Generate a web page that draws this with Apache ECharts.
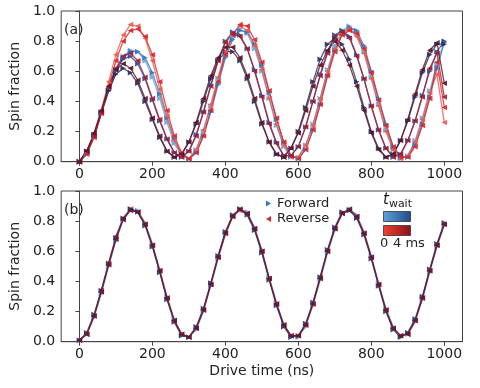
<!DOCTYPE html>
<html><head><meta charset="utf-8">
<script src="https://cdn.jsdelivr.net/npm/echarts@6/dist/echarts.min.js"></script>
<style>html,body{margin:0;padding:0;background:#fff}#c{width:480px;height:388px}</style>
</head><body><div id="c"></div>
<script>
const driveTime = [0,20,40,60,80,100,120,140,160,180,200,220,240,260,280,300,320,340,360,380,400,420,440,460,480,500,520,540,560,580,600,620,640,660,680,700,720,740,760,780,800,820,840,860,880,900,920,940,960,980,1000];
const xTicks = [0,200,400,600,800,1000];
const yTicks = [0,0.2,0.4,0.6,0.8,1.0];

// Panel (a) forward sweeps (light blue -> navy = increasing t_wait)
const aFwd1 = [0,0.05,0.17,0.33,0.48,0.61,0.70,0.74,0.73,0.67,0.56,0.42,0.26,0.12,0.04,0.02,0.08,0.20,0.37,0.55,0.72,0.83,0.88,0.85,0.75,0.60,0.42,0.24,0.10,0.03,0.03,0.11,0.25,0.42,0.61,0.77,0.87,0.90,0.85,0.73,0.56,0.38,0.21,0.08,0.02,0.04,0.14,0.29,0.47,0.65,0.80];
const aFwd2 = [0,0.05,0.16,0.32,0.47,0.60,0.69,0.73,0.73,0.69,0.59,0.45,0.29,0.15,0.05,0.02,0.06,0.17,0.33,0.51,0.69,0.81,0.87,0.86,0.78,0.64,0.46,0.28,0.13,0.04,0.02,0.08,0.21,0.38,0.57,0.74,0.85,0.89,0.87,0.77,0.60,0.42,0.25,0.10,0.03,0.03,0.11,0.25,0.43,0.62,0.79];
const aFwd3 = [0,0.07,0.17,0.32,0.47,0.61,0.68,0.70,0.65,0.55,0.41,0.27,0.15,0.06,0.03,0.07,0.18,0.33,0.51,0.67,0.80,0.86,0.84,0.75,0.61,0.44,0.26,0.13,0.04,0.04,0.10,0.23,0.40,0.58,0.73,0.84,0.87,0.83,0.71,0.55,0.37,0.21,0.09,0.03,0.05,0.14,0.27,0.44,0.60,0.73,0.80];
const aFwd4 = [0,0.07,0.18,0.33,0.47,0.58,0.62,0.59,0.52,0.40,0.28,0.16,0.07,0.03,0.05,0.13,0.25,0.40,0.55,0.67,0.73,0.73,0.67,0.55,0.40,0.25,0.13,0.05,0.03,0.09,0.20,0.36,0.53,0.68,0.78,0.82,0.78,0.68,0.53,0.36,0.20,0.09,0.03,0.05,0.14,0.27,0.43,0.59,0.71,0.78,0.78];
// Panel (a) reverse sweeps (light red -> maroon)
const aRev1 = [0,0.06,0.17,0.34,0.53,0.71,0.84,0.91,0.90,0.82,0.67,0.48,0.30,0.14,0.04,0.02,0.08,0.21,0.38,0.56,0.73,0.85,0.90,0.87,0.77,0.61,0.42,0.25,0.11,0.03,0.03,0.11,0.24,0.42,0.60,0.75,0.85,0.88,0.83,0.72,0.55,0.37,0.20,0.08,0.02,0.04,0.13,0.28,0.46,0.58,0.26];
const aRev2 = [0,0.05,0.16,0.32,0.50,0.67,0.80,0.87,0.88,0.83,0.71,0.53,0.34,0.17,0.06,0.02,0.06,0.17,0.34,0.53,0.71,0.84,0.91,0.90,0.81,0.66,0.47,0.29,0.13,0.04,0.02,0.08,0.21,0.38,0.57,0.73,0.84,0.87,0.85,0.75,0.59,0.41,0.24,0.10,0.03,0.03,0.10,0.24,0.42,0.66,0.36];
const aRev3 = [0,0.07,0.17,0.33,0.49,0.62,0.70,0.72,0.67,0.56,0.42,0.28,0.15,0.06,0.03,0.07,0.17,0.33,0.50,0.67,0.79,0.85,0.83,0.75,0.60,0.43,0.25,0.12,0.04,0.04,0.10,0.23,0.40,0.57,0.72,0.83,0.86,0.82,0.70,0.55,0.37,0.21,0.09,0.03,0.05,0.14,0.27,0.43,0.62,0.72,0.43];
const aRev4 = [0,0.07,0.19,0.34,0.50,0.61,0.65,0.62,0.54,0.42,0.29,0.17,0.07,0.03,0.05,0.13,0.26,0.42,0.57,0.69,0.76,0.76,0.69,0.57,0.42,0.26,0.13,0.05,0.03,0.09,0.19,0.34,0.50,0.64,0.74,0.80,0.74,0.64,0.50,0.34,0.19,0.08,0.03,0.05,0.14,0.28,0.45,0.61,0.74,0.79,0.52];

// Panel (b)
const bFwd1 = [0.01,0.05,0.16,0.32,0.50,0.67,0.81,0.88,0.87,0.79,0.65,0.48,0.30,0.15,0.05,0.03,0.08,0.20,0.37,0.55,0.71,0.83,0.88,0.86,0.76,0.61,0.43,0.26,0.12,0.04,0.03,0.10,0.24,0.41,0.59,0.74,0.85,0.88,0.84,0.73,0.57,0.39,0.22,0.10,0.04,0.05,0.13,0.28,0.46,0.63,0.77];
const bFwd2 = [0.01,0.06,0.18,0.34,0.52,0.69,0.82,0.88,0.86,0.77,0.63,0.46,0.28,0.13,0.04,0.03,0.10,0.22,0.39,0.57,0.73,0.84,0.88,0.84,0.74,0.59,0.41,0.24,0.10,0.03,0.04,0.12,0.26,0.43,0.61,0.76,0.86,0.87,0.82,0.71,0.55,0.37,0.20,0.08,0.03,0.06,0.15,0.30,0.48,0.65,0.79];
const bRev1 = [0.01,0.05,0.17,0.34,0.52,0.70,0.82,0.88,0.86,0.78,0.64,0.47,0.29,0.14,0.05,0.03,0.09,0.21,0.38,0.56,0.72,0.83,0.87,0.85,0.75,0.60,0.42,0.25,0.11,0.04,0.04,0.11,0.25,0.43,0.60,0.75,0.85,0.87,0.83,0.72,0.56,0.38,0.21,0.09,0.04,0.05,0.14,0.29,0.47,0.64,0.78];
const bRev2 = [0.01,0.05,0.17,0.33,0.51,0.68,0.81,0.87,0.86,0.78,0.64,0.47,0.29,0.14,0.05,0.03,0.09,0.21,0.38,0.56,0.72,0.83,0.88,0.85,0.75,0.60,0.42,0.25,0.11,0.04,0.04,0.11,0.25,0.42,0.60,0.75,0.85,0.88,0.83,0.72,0.56,0.38,0.21,0.09,0.04,0.05,0.14,0.29,0.47,0.64,0.78];

const FONT = 'DejaVu Sans';
const chart = echarts.init(document.getElementById('c'), null, {renderer:'canvas'});

function mk(arr, color, fwd, idx, z) {
  return {
    type:'line', xAxisIndex:idx, yAxisIndex:idx, z:z||2,
    data: driveTime.map((t,i)=>[t, arr[i]]),
    symbol:'triangle', symbolSize:5.5, symbolRotate: fwd ? -90 : 90,
    showSymbol:true,
    lineStyle:{color:color, width:1.3, opacity:0.8},
    itemStyle:{color:color, opacity:0.9},
    emphasis:{disabled:true}, animation:false, silent:true
  };
}

const gridTop = [11, 191], gridH = 150.7;
const grids = gridTop.map(t => ({left:54.5, top:t, width:408, height:gridH, show:true, borderColor:'#444', borderWidth:1, backgroundColor:'transparent'}));

const xAxes = [0,1].map(i => ({
  type:'value', gridIndex:i, min:-50, max:1050,
  axisLine:{show:true, onZero:false, lineStyle:{color:'#444', width:1}},
  axisTick:{show:true, length:4, customValues:xTicks, lineStyle:{color:'#444'}},
  axisLabel:{show:true, customValues:xTicks, margin:6, color:'#222', fontFamily:FONT, fontSize:14, formatter:v=>String(Math.round(v))},
  splitLine:{show:false},
  name: i===1 ? 'Drive time (ns)' : '', nameLocation:'middle', nameGap:23,
  nameTextStyle:{color:'#222', fontFamily:FONT, fontSize:14}
}));
const yAxes = [0,1].map(i => ({
  type:'value', gridIndex:i, min:0, max:1, interval:0.2,
  axisLine:{show:true, lineStyle:{color:'#444', width:1}},
  axisTick:{show:true, length:4, lineStyle:{color:'#444'}},
  axisLabel:{margin:6, color:'#222', fontFamily:FONT, fontSize:14, formatter:v=>v.toFixed(1)},
  splitLine:{show:false},
  name:'Spin fraction', nameLocation:'middle', nameGap:33,
  nameTextStyle:{color:'#222', fontFamily:FONT, fontSize:14}
}));

const series = [
  mk(aFwd1,'#6aa8dc',true,0), mk(aFwd2,'#3a76b8',true,0), mk(aFwd3,'#2f4f8f',true,0), mk(aFwd4,'#2d2c5a',true,0),
  mk(aRev1,'#f0584a',false,0), mk(aRev2,'#d8262a',false,0), mk(aRev3,'#a8182e',false,0), mk(aRev4,'#5c1226',false,0),
  mk(bFwd1,'#5b9bd5',true,1), mk(bRev1,'#e0302a',false,1), mk(bFwd2,'#2a3468',true,1,3), mk(bRev2,'#6a1428',false,1,3)
];

const graphic = [
  {type:'text', left:64, top:23, style:{text:'(a)', font:'14px "DejaVu Sans"', fill:'#222'}},
  {type:'text', left:64, top:203, style:{text:'(b)', font:'14px "DejaVu Sans"', fill:'#222'}},
  // legend
  {type:'polygon', shape:{points:[[266,200.5],[266,206.5],[271,203.5]]}, style:{fill:'#3a76b8'}},
  {type:'text', left:277, top:197, style:{text:'Forward', font:'13px "DejaVu Sans"', fill:'#222'}},
  {type:'polygon', shape:{points:[[271,216],[271,222],[266,219]]}, style:{fill:'#d8262a'}},
  {type:'text', left:277, top:212, style:{text:'Reverse', font:'13px "DejaVu Sans"', fill:'#222'}},
  // colorbar
  {type:'text', left:383, top:193, style:{text:'{t|t}{s|wait}', rich:{t:{font:'italic 15px "DejaVu Sans"', fill:'#222'}, s:{font:'11px "DejaVu Sans"', fill:'#222', padding:[8,0,0,0]}}}},
  {type:'rect', shape:{x:383.5, y:211.5, width:27, height:10}, style:{stroke:'#333', lineWidth:0.8, fill:new echarts.graphic.LinearGradient(0,0,1,0,[{offset:0,color:'#5da2dc'},{offset:1,color:'#1f4a8a'}])}},
  {type:'rect', shape:{x:383.5, y:225.5, width:27, height:10}, style:{stroke:'#333', lineWidth:0.8, fill:new echarts.graphic.LinearGradient(0,0,1,0,[{offset:0,color:'#f2402e'},{offset:1,color:'#8a1218'}])}},
  {type:'text', left:380, top:237, style:{text:'0', font:'13px "DejaVu Sans"', fill:'#222'}},
  {type:'text', left:393, top:237, style:{text:'4 ms', font:'13px "DejaVu Sans"', fill:'#222'}}
];

chart.setOption({
  animation:false,
  backgroundColor:'#fff',
  grid:grids, xAxis:xAxes, yAxis:yAxes, series:series, graphic:graphic
});
</script></body></html>
